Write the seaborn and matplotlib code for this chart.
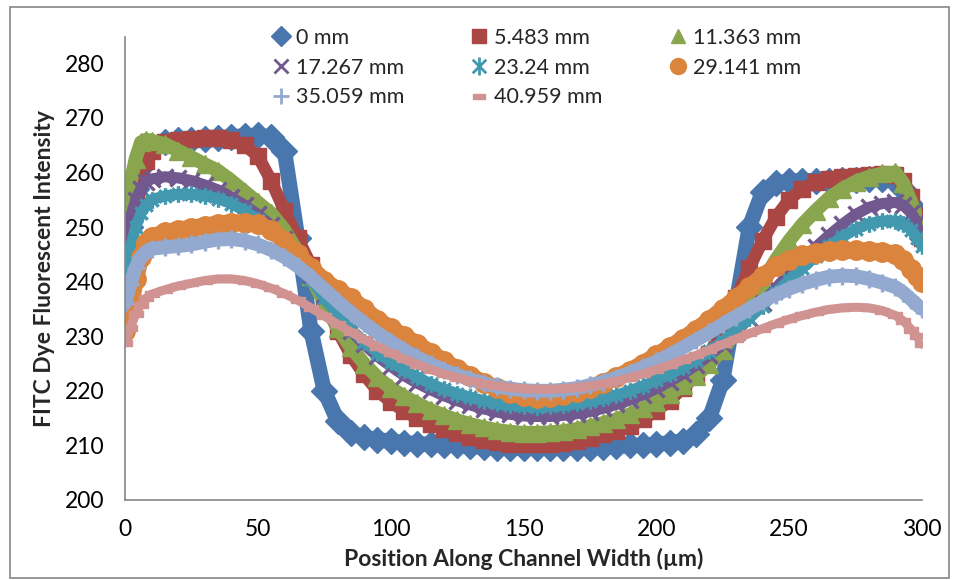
import matplotlib
matplotlib.use("Agg")
import matplotlib.pyplot as plt
from matplotlib.lines import Line2D
from matplotlib.path import Path
from matplotlib.patches import Rectangle
import pandas as pd
import seaborn as sns

# Position along the channel (um), shared by every series
position = [0, 2, 4, 6, 8, 10, 15, 20, 25, 30, 35, 40, 45, 50, 55, 60, 65, 70, 75, 80,
            85, 90, 95, 100, 105, 110, 115, 120, 125, 130, 135, 140, 145, 150, 155, 160,
            165, 170, 175, 180, 185, 190, 195, 200, 205, 210, 215, 220, 225, 230, 235,
            240, 245, 250, 255, 260, 265, 270, 275, 280, 285, 290, 293, 296, 298, 300]

# Intensity readings for each downstream distance
i_0mm = [240, 250, 257, 261, 263.5, 264.5, 265.5, 266, 266, 266.2, 266.3, 266.5, 266.7, 266.8,
         266.5, 264, 248, 231, 220, 214.5, 212.3, 211.5, 211, 210.8, 210.5, 210.3, 210.2, 210,
         210, 209.8, 209.7, 209.6, 209.5, 209.5, 209.5, 209.5, 209.5, 209.6, 209.6, 209.7,
         209.8, 210, 210, 210.2, 210.5, 210.8, 212, 215, 222, 236, 250, 256.5, 258, 258.4,
         258.5, 258.5, 258.5, 258.6, 258.7, 258.8, 258.8, 258.5, 257, 254, 251, 248]
i_5mm = [244, 249, 255, 259, 262, 264, 265.5, 266, 266.2, 266.3, 266.3, 266, 265, 263,
         258.5, 253, 248, 243, 237, 231, 226.5, 223, 220, 218, 216.3, 215, 214, 213, 212.2,
         211.5, 211, 210.6, 210.3, 210.2, 210.2, 210.3, 210.5, 210.8, 211.3, 212, 212.7,
         213.5, 214.8, 216.3, 218.2, 220.5, 222.8, 226.8, 231.5, 237, 242.5, 247.5, 251.8,
         255, 257, 258.2, 258.8, 259.1, 259.3, 259.5, 259.7, 259.5, 258.5, 255.5, 252, 248]
i_11mm = [252, 258, 262.5, 265.5, 266, 265.8, 265.2, 264, 262.8, 261.5, 260.3, 258.5, 256.5,
          254.5, 252.5, 249.5, 245.5, 241, 236, 231.5, 228, 225, 222.5, 220.5, 219, 217.7,
          216.5, 215.5, 214.6, 213.9, 213.3, 212.8, 212.5, 212.3, 212.3, 212.4, 212.6, 213,
          213.5, 214.1, 214.8, 215.7, 216.8, 218, 219.4, 221, 222.8, 225, 227.5, 231, 235.5,
          240, 244, 247.5, 250.5, 253, 255.3, 257, 258.3, 259.2, 259.8, 260, 258, 254.5, 252, 250]
i_17mm = [247, 251.5, 255, 257, 258.3, 258.8, 259.2, 259, 258.5, 257.7, 256.8, 255.5, 254,
          252.3, 250.3, 247.8, 244.8, 241.3, 237.5, 234, 231, 228.5, 226.3, 224.5, 222.8,
          221.4, 220.2, 219.1, 218.2, 217.4, 216.7, 216.1, 215.7, 215.4, 215.3, 215.3, 215.5,
          215.8, 216.2, 216.8, 217.5, 218.3, 219.3, 220.4, 221.7, 223.1, 224.7, 226.5, 228.5,
          230.8, 233.3, 236, 238.8, 241.5, 244, 246.3, 248.5, 250.5, 252.3, 253.6, 254.3,
          254.5, 254, 252.5, 251, 249.5]
i_23mm = [240, 246, 250, 252.5, 254, 255, 255.7, 256, 256, 255.7, 255.2, 254.3, 253, 251.3,
          249.3, 246.8, 243.8, 240.5, 237, 234, 231.3, 229, 227, 225.3, 223.8, 222.5, 221.3,
          220.3, 219.5, 218.8, 218.2, 217.7, 217.4, 217.2, 217.1, 217.2, 217.4, 217.7, 218.1,
          218.6, 219.2, 220, 220.9, 221.9, 223, 224.3, 225.7, 227.3, 229.1, 231.1, 233.3,
          235.6, 238, 240.3, 242.5, 244.6, 246.5, 248.2, 249.6, 250.6, 251.1, 251.1, 250.5,
          249.5, 248, 246.5]
i_29mm = [231, 235, 240.5, 244.5, 247, 248.2, 249, 249.5, 249.8, 250.2, 250.6, 250.8, 250.8,
          250.5, 249.5, 247.5, 245, 242.5, 240.2, 238.5, 237, 235, 233, 231.5, 230, 228.6,
          227, 225.5, 224, 222.7, 221.5, 220.5, 219.6, 219, 218.7, 218.8, 219.2, 219.8, 220.6,
          221.5, 222.5, 223.7, 225, 226.5, 228, 229.5, 231.2, 233, 235, 237, 239, 241, 242.8,
          244, 244.8, 245.3, 245.6, 245.7, 245.7, 245.6, 245.5, 245, 244, 242.3, 241, 240]
i_35mm = [236, 239.5, 242.5, 244.5, 245.5, 246, 246.3, 246.5, 246.8, 247.3, 247.7, 247.8,
          247.5, 246.8, 245.8, 244.5, 242.8, 240.8, 238.6, 236.4, 234.3, 232.4, 230.6, 229,
          227.5, 226.1, 224.9, 223.8, 222.9, 222.1, 221.4, 220.8, 220.4, 220.1, 220, 220,
          220.2, 220.5, 221, 221.6, 222.4, 223.3, 224.3, 225.4, 226.6, 227.9, 229.3, 230.7,
          232.2, 233.6, 235, 236.4, 237.6, 238.7, 239.6, 240.3, 240.9, 241.1, 241, 240.5,
          239.8, 239, 238, 236.7, 235.8, 235]
i_41mm = [228.8, 231.5, 234, 235.8, 237, 237.7, 238.5, 239.2, 239.7, 240.2, 240.5, 240.5,
          240.2, 239.6, 238.8, 237.8, 236.6, 235.2, 233.7, 232.2, 230.8, 229.4, 228.1, 226.9,
          225.8, 224.8, 223.9, 223.1, 222.4, 221.8, 221.3, 220.9, 220.6, 220.4, 220.3, 220.3,
          220.4, 220.6, 220.9, 221.3, 221.8, 222.4, 223.1, 223.9, 224.7, 225.6, 226.5, 227.5,
          228.5, 229.5, 230.5, 231.4, 232.3, 233.1, 233.8, 234.4, 234.9, 235.2, 235.3, 235.2,
          234.7, 233.8, 232.8, 231.2, 230, 228.5]

labels = ["0 mm", "5.483 mm", "11.363 mm", "17.267 mm",
          "23.24 mm", "29.141 mm", "35.059 mm", "40.959 mm"]
series = [i_0mm, i_5mm, i_11mm, i_17mm, i_23mm, i_29mm, i_35mm, i_41mm]

colors = ["#4A76AE", "#AA4643", "#89A54E", "#71588F",
          "#4198AF", "#DB843D", "#93A9CF", "#D19392"]

# Excel-like marker shapes
asterisk = Path([(0, -1), (0, 1), (-0.75, -0.75), (0.75, 0.75), (-0.75, 0.75), (0.75, -0.75)],
                [Path.MOVETO, Path.LINETO] * 3)
dash = Path([(-1, -0.4), (1, -0.4), (1, 0.4), (-1, 0.4), (-1, -0.4)],
            [Path.MOVETO, Path.LINETO, Path.LINETO, Path.LINETO, Path.CLOSEPOLY])
markers = ["D", "s", "^", "x", asterisk, "o", "+", dash]
band = [11, 9, 10, 8, 8, 12, 10, 6.5]      # line width (pt)
msize = [13, 11, 13, 11, 12, 14, 13, 10]
mew = [1, 1, 1, 2.4, 2.4, 1, 2.4, 1]

sns.set_theme(style="white")
plt.rcParams["font.family"] = ["Lato", "DejaVu Sans"]

fig = plt.figure(figsize=(9.59, 5.80), dpi=100)
ax = fig.add_axes([125 / 959, 80 / 580, 797 / 959, 463 / 580])

for vals, lab, col, mk, lw, ms, ew in zip(series, labels, colors, markers, band, msize, mew):
    df = pd.DataFrame({"position": position, "intensity": vals})
    sns.lineplot(data=df, x="position", y="intensity", ax=ax, color=col, linewidth=lw,
                 marker=mk, markersize=ms, markeredgecolor=col, markerfacecolor=col,
                 markeredgewidth=ew, sort=False, estimator=None, legend=False)

ax.set_xlim(0, 300)
ax.set_ylim(200, 284.8)
ax.set_xticks([0, 50, 100, 150, 200, 250, 300])
ax.set_yticks([200, 210, 220, 230, 240, 250, 260, 270, 280])
for s in ["top", "right"]:
    ax.spines[s].set_visible(False)
for s in ["left", "bottom"]:
    ax.spines[s].set_color("#868686")
    ax.spines[s].set_linewidth(1.2)
ax.tick_params(axis="both", direction="out", length=6.5, width=1.2, color="#868686",
               labelsize=16.5, labelcolor="black")
ax.tick_params(axis="x", pad=7)
ax.tick_params(axis="y", pad=8)
ax.set_xlabel("Position Along Channel Width (µm)", fontsize=16.5, fontweight="bold", labelpad=6)
ax.set_ylabel("FITC Dye Fluorescent Intensity", fontsize=16.5, fontweight="bold", labelpad=7)

# legend: three columns filled row by row, as in the original
lg_size = [10, 10, 10.5, 10, 13, 11.5, 11, 9]
handles = [Line2D([], [], linestyle="none", marker=mk, color=col, markersize=s,
                  markeredgewidth=ew, markeredgecolor=col)
           for mk, col, s, ew in zip(markers, colors, lg_size, [1, 1, 1, 2, 2, 1, 2, 1])]
order = [0, 3, 6, 1, 4, 7, 2, 5]
ax.legend([handles[i] for i in order], [labels[i] for i in order], ncol=3,
          loc="upper left", bbox_to_anchor=(272 / 959, 1 - 28 / 580),
          bbox_transform=fig.transFigure, frameon=False, fontsize=15.5,
          handlelength=0.8, handletextpad=0.3, columnspacing=3.1, labelspacing=0.45,
          borderaxespad=0, borderpad=0)

# chart area border
fig.patches.append(Rectangle((10 / 959, 2 / 580), 939 / 959, 571 / 580,
                             transform=fig.transFigure, fill=False,
                             edgecolor="#868686", linewidth=1.2))

fig.savefig("out.png", dpi=100)
